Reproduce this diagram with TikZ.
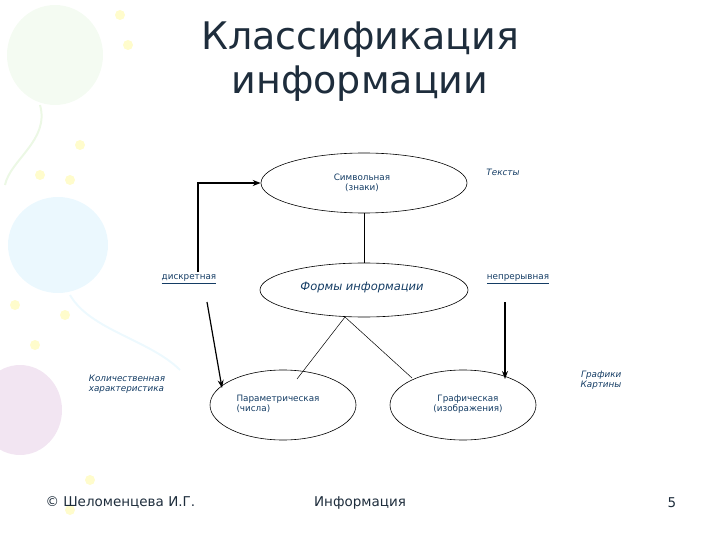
\documentclass[tikz,border=0pt]{standalone}
\usepackage{fontspec}
\setmainfont{DejaVu Sans}
\usetikzlibrary{arrows.meta,shapes.geometric}
\definecolor{txt}{RGB}{20,60,100}
\definecolor{ttl}{RGB}{30,45,60}
\tikzset{
  oval/.style={draw=black,ellipse,line width=0.6pt},
  lbl/.style={font=\fontsize{8.8}{10.5}\selectfont,text=txt,align=center},
  ilbl/.style={font=\fontsize{8.8}{10.5}\selectfont\itshape,text=txt,align=left},
  ulbl/.style={font=\fontsize{8.8}{10.5}\selectfont,text=txt},
  arr/.style={line width=1.2pt,-{Stealth[length=8pt,width=6pt]}},
  ln/.style={line width=0.5pt},
  foot/.style={font=\fontsize{13.5}{16}\selectfont,text=ttl}
}
\begin{document}
\begin{tikzpicture}[x=1pt,y=-1pt]
\useasboundingbox (0,0) rectangle (720,540);
% balloons background
\fill[yellow!12!green!5] (55,55) ellipse (48 and 50);
\draw[yellow!25!green!10,line width=2pt] (40,105) .. controls (50,140) and (10,160) .. (5,185);
\fill[cyan!8] (58,245) ellipse (50 and 48);
\draw[cyan!7,line width=2pt] (70,295) .. controls (90,330) and (150,340) .. (180,370);
\fill[violet!10] (20,410) ellipse (42 and 45);
\foreach \p in {(120,15),(128,45),(80,145),(40,175),(70,180),(15,305),(65,315),(35,345),(90,480),(70,510)}
  \fill[yellow!20] \p circle (5);
% nodes
\node[oval,minimum width=206pt,minimum height=60pt] (sym) at (364,183) {};
\node[lbl] at (362,183) {Символьная\\(знаки)};
\node[oval,minimum width=208pt,minimum height=54pt] (form) at (364,290) {};
\node[font=\fontsize{11.5}{13}\selectfont\itshape,text=txt] at (362,288) {Формы информации};
\node[oval,minimum width=146pt,minimum height=70pt] (par) at (283,405) {};
\node[lbl,align=left] at (278,404) {Параметрическая\\(числа)};
\node[oval,minimum width=146pt,minimum height=70pt] (gr) at (463,405) {};
\node[lbl] at (468,404) {Графическая\\(изображения)};
% labels
\node[ilbl] (tx) at (503,172) {Тексты};
\node[ulbl] (disc) at (189,279) {\underline{дискретная}};
\node[ulbl] (cont) at (518,279) {\underline{непрерывная}};
\node[ilbl] (kol) at (127,384) {Количественная\\характеристика};
\node[ilbl,align=right] (grk) at (601,380) {Графики\\Картины};
% connectors
\coordinate (d1) at (198,272);
\coordinate (d2) at (198,183);
\draw[arr] (d1) -- (d2) -- (sym.west);
\coordinate (a1) at (207,302);
\coordinate (a2) at (222,388);
\draw[arr] (a1) -- (a2);
\coordinate (b1) at (505,302);
\coordinate (b2) at (505,379);
\draw[arr] (b1) -- (b2);
\draw[ln] (sym.south) -- (form.north);
\coordinate (fb) at (345,317);
\coordinate (pt) at (297,379);
\coordinate (gt) at (412,378);
\draw[ln] (pt) -- (fb) -- (gt);
% title
\node[font=\fontsize{38}{44}\selectfont,text=ttl,align=center] (title) at (360,62) {Классификация\\информации};
% footer
\node[foot,anchor=west] (f1) at (42,503) {© Шеломенцева И.Г.};
\node[foot] (f2) at (360,503) {Информация};
\node[foot] (f3) at (672,503) {5};
\end{tikzpicture}
\end{document}
